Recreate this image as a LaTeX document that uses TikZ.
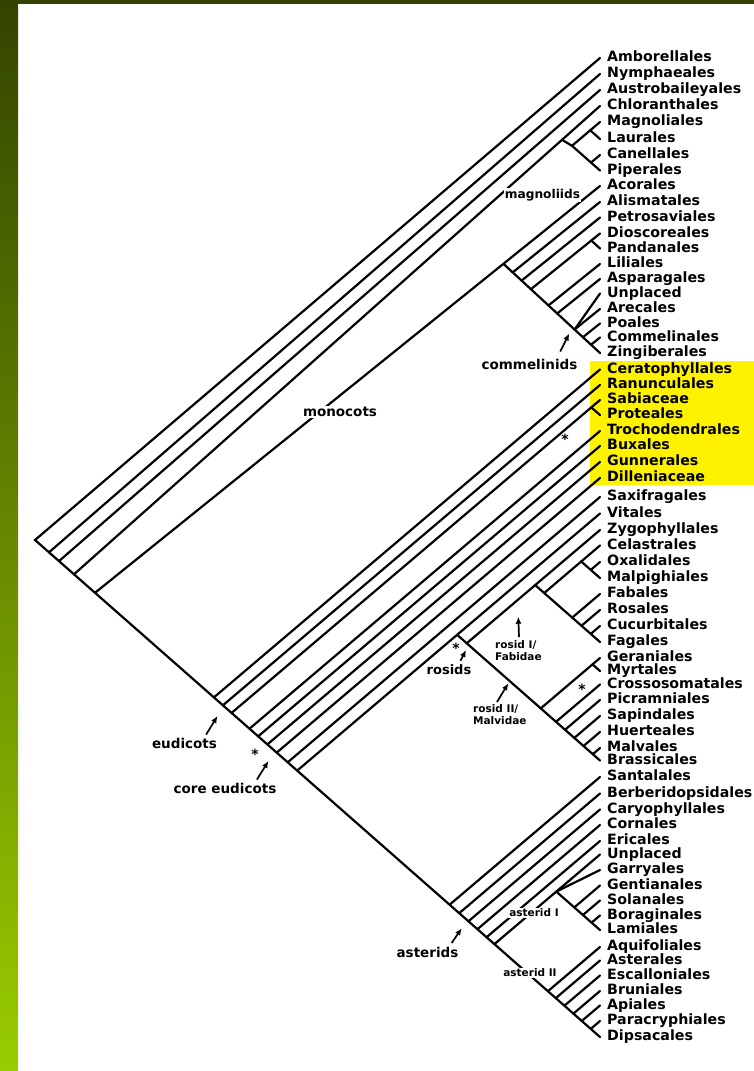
\documentclass[tikz,border=0pt]{standalone}
\usepackage{fontspec}
\setmainfont{DejaVu Sans}
\usepackage{xcolor}
\usepackage{tikz}
\usetikzlibrary{arrows.meta}

\definecolor{bartop}{RGB}{51,68,0}
\definecolor{barbot}{RGB}{153,204,0}

\begin{document}
\begin{tikzpicture}[x=1pt, y=-1pt,
    branch/.style={line width=2.2pt, line cap=round, line join=miter},
    tip/.style={anchor=west, inner xsep=7pt, inner ysep=0pt, text height=10pt, text depth=3pt, font=\fontsize{14.2}{16}\selectfont\bfseries},
    clade/.style={inner sep=1pt, font=\fontsize{13.5}{15}\selectfont\bfseries},
    sub/.style={inner sep=1pt, align=left, font=\fontsize{10.5}{12}\selectfont\bfseries},
    arr/.style={line width=1.7pt, -{Latex[length=7pt, width=6pt]}},
    star/.style={inner sep=0pt, yshift=-2.7pt, font=\fontsize{14}{14}\selectfont\bfseries}]
    \useasboundingbox (0,0) rectangle (754,1071);
    \fill [white] (0,0) rectangle (754,1071);
    \shade [top color=bartop, bottom color=barbot] (0,0) rectangle (18,1071);
    \fill [bartop] (0,0) rectangle (754,3.5);
    \fill [yellow] (590,361) rectangle (754,485);

    \node (amb) [tip] at (600,58) {Amborellales};
    \node (nym) [tip] at (600,74) {Nymphaeales};
    \node (aus) [tip] at (600,90) {Austrobaileyales};
    \node (chl) [tip] at (600,106) {Chloranthales};
    \node (mag) [tip] at (600,122) {Magnoliales};
    \node (lau) [tip] at (600,139) {Laurales};
    \node (can) [tip] at (600,155) {Canellales};
    \node (pip) [tip] at (600,170.5) {Piperales};
    \node (aco) [tip] at (600,186) {Acorales};
    \node (ali) [tip] at (600,202) {Alismatales};
    \node (pet) [tip] at (600,217.5) {Petrosaviales};
    \node (dio) [tip] at (600,233.5) {Dioscoreales};
    \node (pan) [tip] at (600,248.5) {Pandanales};
    \node (lil) [tip] at (600,264) {Liliales};
    \node (asp) [tip] at (600,279) {Asparagales};
    \node (unp1) [tip] at (600,293.5) {Unplaced};
    \node (are) [tip] at (600,309) {Arecales};
    \node (poa) [tip] at (600,323.5) {Poales};
    \node (com) [tip] at (600,337.5) {Commelinales};
    \node (zin) [tip] at (600,353) {Zingiberales};
    \node (cer) [tip] at (600,369.5) {Ceratophyllales};
    \node (ran) [tip] at (600,385) {Ranunculales};
    \node (sab) [tip] at (600,400) {Sabiaceae};
    \node (pro) [tip] at (600,415) {Proteales};
    \node (tro) [tip] at (600,431) {Trochodendrales};
    \node (bux) [tip] at (600,446) {Buxales};
    \node (gun) [tip] at (600,462) {Gunnerales};
    \node (dil) [tip] at (600,478) {Dilleniaceae};
    \node (sax) [tip] at (600,497) {Saxifragales};
    \node (vit) [tip] at (600,513.5) {Vitales};
    \node (zyg) [tip] at (600,530) {Zygophyllales};
    \node (cel) [tip] at (600,545.5) {Celastrales};
    \node (oxa) [tip] at (600,562) {Oxalidales};
    \node (mlp) [tip] at (600,578) {Malpighiales};
    \node (fab) [tip] at (600,594) {Fabales};
    \node (ros) [tip] at (600,610) {Rosales};
    \node (cuc) [tip] at (600,626) {Cucurbitales};
    \node (fag) [tip] at (600,642) {Fagales};
    \node (ger) [tip] at (600,658) {Geraniales};
    \node (myr) [tip] at (600,671) {Myrtales};
    \node (cro) [tip] at (600,684.5) {Crossosomatales};
    \node (pic) [tip] at (600,700) {Picramniales};
    \node (sap) [tip] at (600,716) {Sapindales};
    \node (hue) [tip] at (600,732) {Huerteales};
    \node (mlv) [tip] at (600,748) {Malvales};
    \node (bra) [tip] at (600,760.5) {Brassicales};
    \node (san) [tip] at (600,777) {Santalales};
    \node (ber) [tip] at (600,793.5) {Berberidopsidales};
    \node (car) [tip] at (600,809.5) {Caryophyllales};
    \node (cor) [tip] at (600,825) {Cornales};
    \node (eri) [tip] at (600,841) {Ericales};
    \node (unp2) [tip] at (600,854.5) {Unplaced};
    \node (gar) [tip] at (600,870) {Garryales};
    \node (gen) [tip] at (600,885.5) {Gentianales};
    \node (sol) [tip] at (600,900.5) {Solanales};
    \node (bor) [tip] at (600,915.5) {Boraginales};
    \node (lam) [tip] at (600,930) {Lamiales};
    \node (aqu) [tip] at (600,947) {Aquifoliales};
    \node (ast) [tip] at (600,960.5) {Asterales};
    \node (esc) [tip] at (600,975.5) {Escalloniales};
    \node (bru) [tip] at (600,991) {Bruniales};
    \node (api) [tip] at (600,1005.5) {Apiales};
    \node (par) [tip] at (600,1021) {Paracryphiales};
    \node (dip) [tip] at (600,1037) {Dipsacales};

    \coordinate (root) at (35,540);
    \coordinate (snym) at (49,552.3);
    \coordinate (saus) at (59,561.1);
    \coordinate (schl) at (74,574.3);
    \coordinate (cm) at (562,139.8);
    \coordinate (magn) at (572,145.8);
    \coordinate (ml) at (590.2,130.3);
    \coordinate (cp) at (591,162.6);
    \coordinate (smono) at (95,592.8);
    \coordinate (mono) at (503.4,263.8);
    \coordinate (mali) at (512.7,272.4);
    \coordinate (mpet) at (521.6,280.6);
    \coordinate (mdio) at (530.9,289.2);
    \coordinate (dp) at (591.3,240.5);
    \coordinate (mlil) at (548.5,305.4);
    \coordinate (masp) at (557.2,313.5);
    \coordinate (comm) at (574.6,329.5);
    \coordinate (mpoa) at (582.9,337.2);
    \coordinate (mcom) at (591,344.7);
    \coordinate (scer) at (213.9,697.4);
    \coordinate (sran) at (222.9,705.3);
    \coordinate (ssab) at (231.6,712.9);
    \coordinate (sp) at (591.3,407.4);
    \coordinate (stro) at (249.5,728.7);
    \coordinate (sbux) at (258.2,736.3);
    \coordinate (sgun) at (267.4,744.4);
    \coordinate (sdil) at (276.7,752.6);
    \coordinate (ssax) at (287.7,762.3);
    \coordinate (svit) at (297.2,770.6);
    \coordinate (rosid) at (457.1,634.8);
    \coordinate (eurosid) at (466.7,643.3);
    \coordinate (fabid) at (535.2,585.1);
    \coordinate (comn) at (544.2,593);
    \coordinate (cmo) at (581.2,561.5);
    \coordinate (om) at (590.75,569.9);
    \coordinate (nfix) at (572.2,617.6);
    \coordinate (rcf) at (581.5,625.7);
    \coordinate (cf) at (590.75,633.9);
    \coordinate (malv) at (540.7,708.4);
    \coordinate (gm) at (592.5,664.4);
    \coordinate (mcro) at (556,721.8);
    \coordinate (mpic) at (565,729.8);
    \coordinate (msap) at (574.3,737.9);
    \coordinate (mhue) at (583.5,746);
    \coordinate (mmlv) at (592.8,754.2);
    \coordinate (ssan) at (449.6,904.7);
    \coordinate (sber) at (459.2,913.2);
    \coordinate (scar) at (468.4,921.3);
    \coordinate (scor) at (477.4,929.2);
    \coordinate (seri) at (486.6,937.2);
    \coordinate (seua) at (494.4,944.1);
    \coordinate (ast1) at (556.3,891.6);
    \coordinate (agen) at (574.3,907.4);
    \coordinate (asol) at (582.9,915);
    \coordinate (abor) at (591.6,922.6);
    \coordinate (sast2) at (547.9,991.2);
    \coordinate (aast) at (555.8,998.1);
    \coordinate (aesc) at (564.4,1005.7);
    \coordinate (abru) at (573.4,1013.6);
    \coordinate (aapi) at (581.8,1020.9);
    \coordinate (apar) at (590.75,1028.9);

    \draw [branch] (amb.west) -- (root) -- (dip.west);
    \draw [branch] (snym) -- (nym.west);
    \draw [branch] (saus) -- (aus.west);
    \draw [branch] (schl) -- (chl.west);
    \draw [branch] (cm) -- (magn) -- (mag.west);
    \draw [branch] (ml) -- (lau.west);
    \draw [branch] (magn) -- (pip.west);
    \draw [branch] (cp) -- (can.west);
    \draw [branch] (smono) -- (aco.west);
    \draw [branch] (mono) -- (zin.west);
    \draw [branch] (mali) -- (ali.west);
    \draw [branch] (mpet) -- (pet.west);
    \draw [branch] (mdio) -- (dio.west);
    \draw [branch] (dp) -- (pan.west);
    \draw [branch] (mlil) -- (lil.west);
    \draw [branch] (masp) -- (asp.west);
    \draw [branch] (comm) -- (unp1.west);
    \draw [branch] (comm) -- (are.west);
    \draw [branch] (mpoa) -- (poa.west);
    \draw [branch] (mcom) -- (com.west);
    \draw [branch] (scer) -- (cer.west);
    \draw [branch] (sran) -- (ran.west);
    \draw [branch] (ssab) -- (sab.west);
    \draw [branch] (sp) -- (pro.west);
    \draw [branch] (stro) -- (tro.west);
    \draw [branch] (sbux) -- (bux.west);
    \draw [branch] (sgun) -- (gun.west);
    \draw [branch] (sdil) -- (dil.west);
    \draw [branch] (ssax) -- (sax.west);
    \draw [branch] (svit) -- (vit.west);
    \draw [branch] (rosid) -- (bra.west);
    \draw [branch] (eurosid) -- (zyg.west);
    \draw [branch] (fabid) -- (fag.west);
    \draw [branch] (comn) -- (cel.west);
    \draw [branch] (cmo) -- (mlp.west);
    \draw [branch] (om) -- (oxa.west);
    \draw [branch] (nfix) -- (fab.west);
    \draw [branch] (rcf) -- (ros.west);
    \draw [branch] (cf) -- (cuc.west);
    \draw [branch] (malv) -- (ger.west);
    \draw [branch] (gm) -- (myr.west);
    \draw [branch] (mcro) -- (cro.west);
    \draw [branch] (mpic) -- (pic.west);
    \draw [branch] (msap) -- (sap.west);
    \draw [branch] (mhue) -- (hue.west);
    \draw [branch] (mmlv) -- (mlv.west);
    \draw [branch] (ssan) -- (san.west);
    \draw [branch] (sber) -- (ber.west);
    \draw [branch] (scar) -- (car.west);
    \draw [branch] (scor) -- (cor.west);
    \draw [branch] (seri) -- (eri.west);
    \draw [branch] (seua) -- (unp2.west);
    \draw [branch] (ast1) -- (gar.west);
    \draw [branch] (ast1) -- (lam.west);
    \draw [branch] (agen) -- (gen.west);
    \draw [branch] (asol) -- (sol.west);
    \draw [branch] (abor) -- (bor.west);
    \draw [branch] (sast2) -- (aqu.west);
    \draw [branch] (aast) -- (ast.west);
    \draw [branch] (aesc) -- (esc.west);
    \draw [branch] (abru) -- (bru.west);
    \draw [branch] (aapi) -- (api.west);
    \draw [branch] (apar) -- (par.west);

    \node (magnl) [clade, fill=white, font=\fontsize{12.2}{14}\selectfont\bfseries] at (542.5,195) {magnoliids};
    \node (comml) [clade] at (529.5,364) {commelinids};
    \node (monol) [clade, fill=white] at (340,412) {monocots};
    \node (eudl) [clade] at (184.5,743) {eudicots};
    \node (coreel) [clade] at (225,788) {core eudicots};
    \node (rosl) [clade, font=\fontsize{13}{15}\selectfont\bfseries] at (449,670) {rosids};
    \node (rosIl) [sub, anchor=north west] at (494,639) {rosid I/\\Fabidae};
    \node (rosIIl) [sub, anchor=north west] at (472,703) {rosid II/\\Malvidae};
    \node (astl) [clade] at (427.5,952) {asterids};
    \node (ast1l) [sub, fill=white] at (534,913) {asterid I};
    \node (ast2l) [sub, fill=white] at (530,973) {asterid II};

    \coordinate (eudp) at (217.5,716);
    \coordinate (coreep) at (268.5,761);
    \coordinate (commp) at (569.3,333.5);
    \coordinate (rosp) at (466,650);
    \coordinate (rosIp) at (518.3,616.7);
    \coordinate (rosIIp) at (508.3,683.3);
    \coordinate (astp) at (461.7,928.3);

    \draw [arr] ([shift={(-12,-2)}]eudl.north east) -- (eudp);
    \draw [arr] ([shift={(-20.6,-2)}]coreel.north east) -- (coreep);
    \draw [arr] ([shift={(-18.4,-6)}]comml.north east) -- (commp);
    \draw [arr] ([shift={(-12,-3)}]rosl.north east) -- (rosp);
    \draw [arr] ([shift={(25,-2)}]rosIl.north west) -- (rosIp);
    \draw [arr] ([shift={(25,-1)}]rosIIl.north west) -- (rosIIp);
    \draw [arr] ([shift={(-8,-2.5)}]astl.north east) -- (astp);

    \node (st1) [star] at (565,437) {*};
    \node (st2) [star] at (255,752) {*};
    \node (st3) [star] at (456,646) {*};
    \node (st4) [star] at (582,687) {*};
\end{tikzpicture}
\end{document}
